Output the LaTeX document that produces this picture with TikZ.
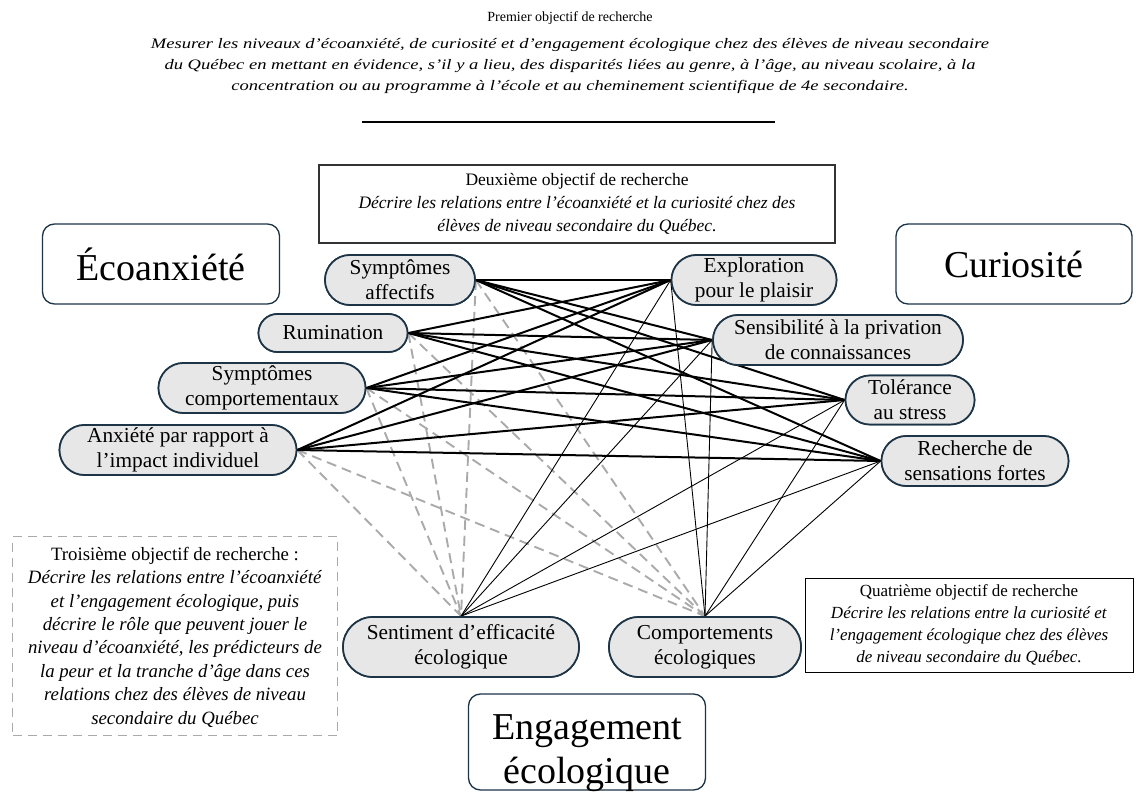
\documentclass[tikz,border=0pt]{standalone}
\usepackage{fontspec}
\setmainfont{Liberation Serif}
\newfontfamily\wideit{Liberation Serif}[FakeStretch=1.28, Ligatures=TeX]
\usetikzlibrary{shapes.misc}
\definecolor{navy}{RGB}{28,52,70}
\definecolor{pill}{RGB}{231,231,231}
\definecolor{dashgray}{RGB}{170,170,170}
\tikzset{
  pillnode/.style={rounded rectangle, draw=navy, fill=pill, line width=1.7pt, inner sep=0pt, align=center, font=\fontsize{21.3}{25}\selectfont},
  bigbox/.style={draw=navy, rounded corners=12pt, line width=1.3pt, inner sep=0pt, align=center},
  bigfont/.style={font=\fontsize{38}{44}\selectfont},
  objtext/.style={align=center, inner sep=0pt, font=\fontsize{17.5}{23}\selectfont},
  strong/.style={line width=2pt, black},
  thin/.style={line width=0.9pt, black},
  dashlink/.style={line width=1.9pt, dashgray, dash pattern=on 10pt off 6pt}
}
\begin{document}
\begin{tikzpicture}[x=1pt,y=-1pt]
\useasboundingbox[fill=white] (0,0) rectangle (1144,792);

% first objective
\node[inner sep=0pt, font=\fontsize{14}{21}\selectfont] (obj1) at (570,18) {Premier objectif de recherche};
\node[inner sep=0pt, align=center, font=\fontsize{14.5}{21}\selectfont\wideit\itshape] (obj1b) at (570,66) {Mesurer les niveaux d’écoanxiété, de curiosité et d’engagement écologique chez des élèves de niveau secondaire\\
du Québec en mettant en évidence, s’il y a lieu, des disparités liées au genre, à l’âge, au niveau scolaire, à la\\
concentration ou au programme à l’école et au cheminement scientifique de 4e secondaire.};
\coordinate (hl1) at (362,122);
\coordinate (hl2) at (775,122);
\draw[line width=2.5pt] (hl1) -- (hl2);

% second objective
\node[draw=black!80, line width=1.6pt, objtext, minimum width=516pt, minimum height=78pt] (obj2) at (577,204) {Deuxième objectif de recherche\\
\textit{Décrire les relations entre l’écoanxiété et la curiosité chez des}\\
\textit{élèves de niveau secondaire du Québec.}};

% big category boxes
\node[bigbox, bigfont, minimum width=237pt, minimum height=80pt] (eco) at (161,264) {Écoanxiété};
\node[bigbox, bigfont, minimum width=236pt, minimum height=80pt] (cur) at (1014,264) {Curiosité};
\node[bigbox, minimum width=237pt, minimum height=96pt] (eng) at (587,742) {};
\node[bigfont, align=center, inner sep=0pt] (engt) at (587,753) {Engagement\\écologique};

% third objective
\node[draw=dashgray, line width=1.6pt, dash pattern=on 9pt off 6pt, minimum width=325pt, minimum height=199pt, inner sep=0pt] (obj3) at (175,636) {};
\node[align=center, inner sep=0pt, font=\fontsize{18.8}{23.4}\selectfont] (obj3t) at (175,637) {Troisième objectif de recherche :\\
\textit{Décrire les relations entre l’écoanxiété}\\
\textit{et l’engagement écologique, puis}\\
\textit{décrire le rôle que peuvent jouer le}\\
\textit{niveau d’écoanxiété, les prédicteurs de}\\
\textit{la peur et la tranche d’âge dans ces}\\
\textit{relations chez des élèves de niveau}\\
\textit{secondaire du Québec}};

% fourth objective
\node[draw=black, line width=0.9pt, objtext, font=\fontsize{17}{22}\selectfont, minimum width=328pt, minimum height=94pt] (obj4) at (969,625) {Quatrième objectif de recherche\\
\textit{Décrire les relations entre la curiosité et}\\
\textit{l’engagement écologique chez des élèves}\\
\textit{de niveau secondaire du Québec.}};

% left nodes (écoanxiété)
\node[pillnode, minimum width=150pt, minimum height=50pt] (sa) at (400,280) {Symptômes\\affectifs};
\node[pillnode, minimum width=149pt, minimum height=38pt] (ru) at (333,333) {Rumination};
\node[pillnode, minimum width=207pt, minimum height=50pt] (sc) at (262,388) {Symptômes\\comportementaux};
\node[pillnode, minimum width=237pt, minimum height=50pt] (ai) at (178,450) {Anxiété par rapport à\\l’impact individuel};

% right nodes (curiosité)
\node[pillnode, minimum width=165pt, minimum height=50pt] (ep) at (754,280) {Exploration\\pour le plaisir};
\node[pillnode, minimum width=250pt, minimum height=50pt] (sp) at (838,340) {Sensibilité à la privation\\de connaissances};
\node[pillnode, minimum width=129pt, minimum height=49pt] (ts) at (910,400) {Tolérance\\au stress};
\node[pillnode, minimum width=187pt, minimum height=50pt] (rs) at (975,461) {Recherche de\\sensations fortes};

% bottom nodes (engagement)
\node[pillnode, minimum width=236pt, minimum height=60pt] (se) at (461,647) {Sentiment d’efficacité\\écologique};
\node[pillnode, minimum width=192pt, minimum height=60pt] (ce) at (705,647) {Comportements\\écologiques};

% dashed links écoanxiété -> engagement
\foreach \a in {sa,ru,sc,ai}{
  \foreach \b in {se,ce}{
    \draw[dashlink] (\a.east) -- (\b.north);
  }
}
% thin links curiosité -> engagement
\foreach \a in {ep,sp,ts,rs}{
  \foreach \b in {se,ce}{
    \draw[thin] (\a.west) -- (\b.north);
  }
}
% strong links écoanxiété -> curiosité
\foreach \a in {sa,ru,sc,ai}{
  \foreach \b in {ep,sp,ts,rs}{
    \draw[strong] (\a.east) -- (\b.west);
  }
}
% redraw node faces on top of the links
\node[pillnode, minimum width=150pt, minimum height=50pt] at (sa) {Symptômes\\affectifs};
\node[pillnode, minimum width=149pt, minimum height=38pt] at (ru) {Rumination};
\node[pillnode, minimum width=207pt, minimum height=50pt] at (sc) {Symptômes\\comportementaux};
\node[pillnode, minimum width=237pt, minimum height=50pt] at (ai) {Anxiété par rapport à\\l’impact individuel};
\node[pillnode, minimum width=165pt, minimum height=50pt] at (ep) {Exploration\\pour le plaisir};
\node[pillnode, minimum width=250pt, minimum height=50pt] at (sp) {Sensibilité à la privation\\de connaissances};
\node[pillnode, minimum width=129pt, minimum height=49pt] at (ts) {Tolérance\\au stress};
\node[pillnode, minimum width=187pt, minimum height=50pt] at (rs) {Recherche de\\sensations fortes};
\node[pillnode, minimum width=236pt, minimum height=60pt] at (se) {Sentiment d’efficacité\\écologique};
\node[pillnode, minimum width=192pt, minimum height=60pt] at (ce) {Comportements\\écologiques};
\end{tikzpicture}
\end{document}
